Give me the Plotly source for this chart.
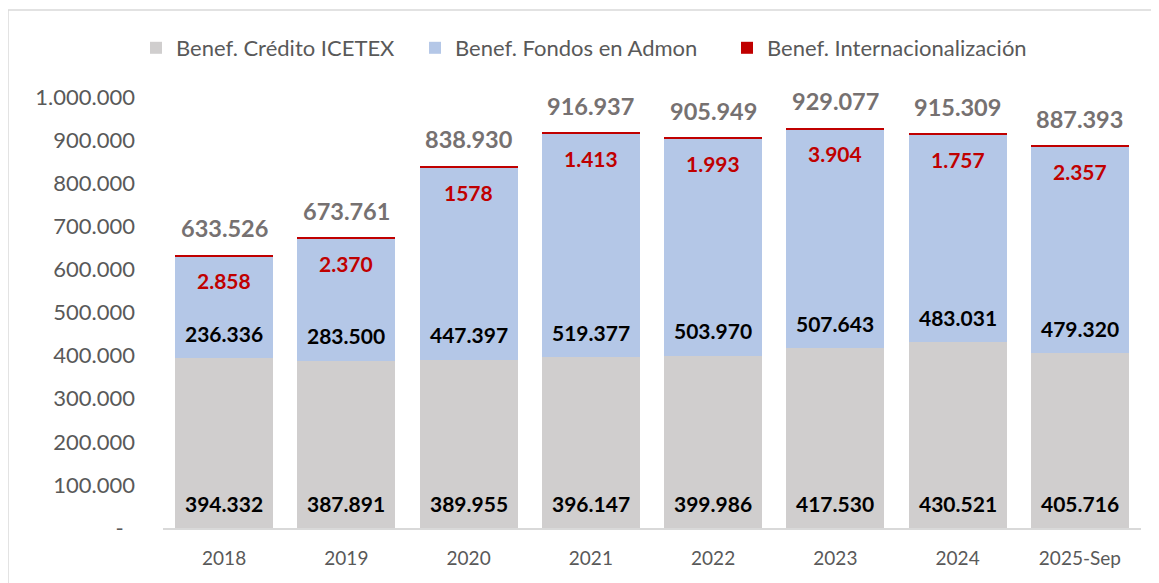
import plotly.graph_objects as go

categories = ["2018", "2019", "2020", "2021", "2022", "2023", "2024", "2025-Sep"]
credito = [394332, 387891, 389955, 396147, 399986, 417530, 430521, 405716]
fondos = [236336, 283500, 447397, 519377, 503970, 507643, 483031, 479320]
internac = [2858, 2370, 1578, 1413, 1993, 3904, 1757, 2357]
internac_labels = ["2.858", "2.370", "1578", "1.413", "1.993", "3.904", "1.757", "2.357"]
y_tickvals = [0, 100000, 200000, 300000, 400000, 500000, 600000, 700000, 800000, 900000, 1000000]
y_ticktext = ["-\u00a0\u00a0", "100.000", "200.000", "300.000", "400.000", "500.000", "600.000",
              "700.000", "800.000", "900.000", "1.000.000"]

FONT = "Lato"

def fmt(v):
    return f"{v:,}".replace(",", ".")

fig = go.Figure()
fig.add_bar(x=categories, y=credito, name="Benef. Crédito ICETEX", marker_color="#D0CECE",
            marker_line_width=0, legend="legend")
fig.add_bar(x=categories, y=fondos, name="Benef. Fondos en Admon", marker_color="#B4C7E7",
            marker_line_width=0, legend="legend2")
fig.add_bar(x=categories, y=internac, name="Benef. Internacionalización", marker_color="#C00000",
            marker_line_width=0, legend="legend3")

anns = []
totals = [a + b + c for a, b, c in zip(credito, fondos, internac)]
for i, cat in enumerate(categories):
    # category axis: annotation x given as category serial index
    anns.append(dict(x=i, y=0, yshift=25, text=fmt(credito[i]), showarrow=False,
                     font=dict(family=FONT, size=21, color="black", weight="bold")))
    anns.append(dict(x=i, y=credito[i], yshift=25, text=fmt(fondos[i]), showarrow=False,
                     font=dict(family=FONT, size=21, color="black", weight="bold")))
    anns.append(dict(x=i, y=totals[i], yshift=-26, text=internac_labels[i], showarrow=False,
                     font=dict(family=FONT, size=21, color="#C00000", weight="bold")))
    anns.append(dict(x=i, y=totals[i], yshift=27, text=fmt(totals[i]), showarrow=False,
                     font=dict(family=FONT, size=23.5, color="#767171", weight="bold")))

leg_common = dict(orientation="h", xanchor="left", y=1.1137, yanchor="middle",
                  font=dict(size=22, color="#595959"), bgcolor="rgba(0,0,0,0)")

fig.update_layout(
    barmode="stack",
    bargap=0.2,
    width=1159, height=583,
    margin=dict(l=155, r=26, t=89, b=63, autoexpand=False),
    paper_bgcolor="white", plot_bgcolor="white",
    font=dict(family=FONT, color="#595959"),
    annotations=anns,
    legend=dict(x=-0.0276, **leg_common),
    legend2=dict(x=0.2577, **leg_common),
    legend3=dict(x=0.5767, **leg_common),
    showlegend=True,
)
fig.update_xaxes(type="category", showline=True, linecolor="#D9D9D9", linewidth=1.5, ticks="",
                 tickfont=dict(size=19, color="#595959"), showgrid=False, automargin=False,
                 ticklabelstandoff=12)
fig.update_yaxes(range=[0, 1000000], tickvals=y_tickvals, ticktext=y_ticktext,
                 showgrid=False, zeroline=False, showline=False, automargin=False,
                 tickfont=dict(size=22, color="#595959"), ticklabelstandoff=27)

fig.add_shape(type="line", xref="paper", yref="paper", x0=-0.1585, x1=-0.1585, y0=-0.2, y1=1.2019,
              line=dict(color="#D9D9D9", width=1.5))
fig.add_shape(type="line", xref="paper", yref="paper", x0=-0.1585, x1=1.1, y0=1.2019, y1=1.2019,
              line=dict(color="#D9D9D9", width=1.5))

fig.write_html("out.html")
